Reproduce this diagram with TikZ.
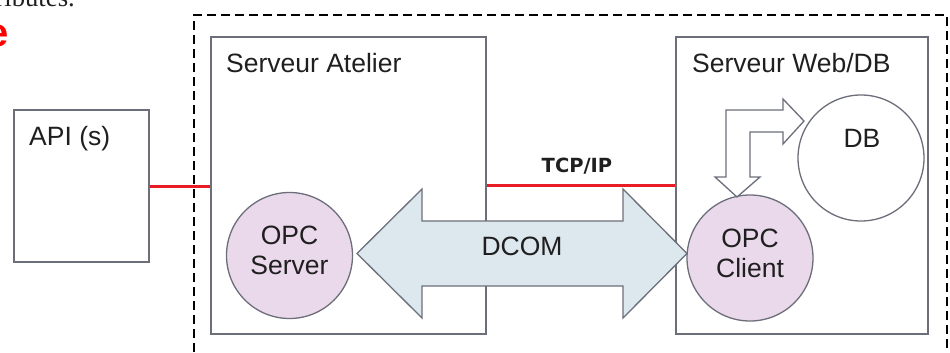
\documentclass[tikz,border=0pt]{standalone}
\usepackage{fontspec}
\setmainfont{Liberation Sans}
\newfontfamily\pagefont{Liberation Serif}
\newfontfamily\tcpfont{DejaVu Sans}
\usetikzlibrary{calc, positioning}
\definecolor{boxgray}{RGB}{108,110,122}
\definecolor{opcpink}{RGB}{234,217,235}
\definecolor{dcomblue}{RGB}{221,231,238}
\definecolor{linkred}{RGB}{232,28,36}

\begin{document}
\begin{tikzpicture}
		[x=1pt, y=-1pt,
		font=\fontsize{26.5}{30}\selectfont,
		b/.style = {draw=boxgray, line width=1.5pt, rectangle, inner sep=0pt},
		c/.style = {draw=boxgray, line width=1.3pt, circle, minimum size=126pt, inner sep=0pt},
		t/.style = {inner sep=0pt, text=black!88},
		l/.style = {draw=linkred, line width=3pt},
		dcom/.style = {draw=boxgray, fill=dcomblue, line width=1.3pt, line join=miter},
		hollow/.style = {draw=boxgray, fill=white, line width=1.3pt, line join=miter}]
		
		\useasboundingbox (0,0) rectangle (950,353);
		
		% cut-off page text
		\node[t, anchor=base east, font=\pagefont\fontsize{26.7}{30}\selectfont] (pagetext) at (75,7) {attributes.};
		\node[t, anchor=base east, text=red, font=\bfseries\fontsize{40}{44}\selectfont] (pagehead) at (9,46.5) {e};
		
		\draw[line width=2.2pt, dash pattern=on 9pt off 5pt] (194,380) |- (947,15) -- (947,380);
		
		\foreach \x/\y/\w/\h/\alph in {
			81.5/186/135pt/152pt/api,
			348.5/185.5/275pt/297pt/atelier,
			802/185.5/252pt/297pt/web}{
			\node[b, minimum width=\w, minimum height=\h] (\alph) at (\x,\y) {};
		}
		\node[t, anchor=base west] (apit) at (29,145) {API (s)};
		\node[t, anchor=base west] (ateliert) at (226,73) {Serveur Atelier};
		\node[t, anchor=base west] (webt) at (692,73) {Serveur Web/DB};
		
		\draw[l] (api.east) -- (api.east -| atelier.west);
		\draw[l] (atelier.east) -- (web.west)
			node[t, midway, anchor=base, xshift=-4pt, yshift=13pt, font=\tcpfont\bfseries\fontsize{19.5}{22}\selectfont] (tcp) {TCP/IP};
		
		\foreach \x/\y/\alph/\name in {
			289.5/255.5/opcs/{OPC\\Server},
			750/258/opcc/{OPC\\Client}}{
			\node[c, fill=opcpink] (\alph) at (\x,\y) {};
			\node[t, align=center] (\alph t) at (\x,\y-5) {\name};
		}
		\node[c, fill=white] (db) at (861,158) {};
		\node[t, anchor=base] (dbt) at (862,147) {DB};
		
		% double arrow between the two OPC ends
		\coordinate (dl) at (357,253.5);
		\coordinate (dr) at (687,253.5);
		\draw[dcom] (dl) -- ++(65,-64.5) -- ++(0,32) -- (623,221) -- ++(0,-32) -- (dr)
			-- (623,318) -- ++(0,-32) -- (422,286) -- ++(0,32) -- cycle;
		\node[t] (dcomt) at (522,246) {DCOM};
		
		\draw[hollow] (726,110) -- (783,110) -- (783,99) -- (804,121) -- (783,144) -- (783,132)
			-- (750,132) -- (750,177) -- (760,177) -- (737,197) -- (715,177) -- (726,177) -- cycle;
	\end{tikzpicture}
\end{document}
